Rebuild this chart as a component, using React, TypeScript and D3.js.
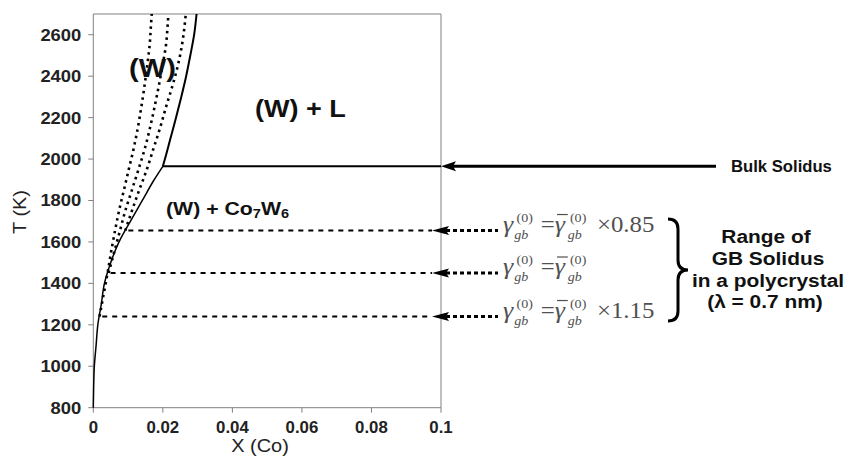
import React from 'react';
import * as d3 from 'd3';

// bulk solidus / solvus of (W)
const solidLowT = [800, 900, 1000, 1100, 1200, 1300, 1400, 1500, 1600, 1700, 1800, 1900, 1965];
const solidLowX = [0, 0.0001, 0.0003, 0.0008, 0.0013, 0.0023, 0.0032, 0.005, 0.0074, 0.0107, 0.0141, 0.0175, 0.02];
const solidHighT = [1965, 2000, 2100, 2200, 2300, 2400, 2500, 2600, 2700];
const solidHighX = [0.02, 0.0206, 0.0222, 0.0238, 0.0253, 0.0267, 0.0279, 0.029, 0.0297];

// GB solidus curves (dotted)
const gb085T = [1655, 1750, 1850, 1950, 2050, 2150, 2250, 2350, 2450, 2550, 2650, 2700];
const gb085X = [0.0092, 0.0111, 0.0132, 0.0154, 0.0173, 0.0192, 0.0209, 0.0227, 0.0243, 0.0255, 0.0263, 0.0266];
const gb100T = [1450, 1550, 1650, 1750, 1850, 1950, 2050, 2150, 2250, 2350, 2450, 2550, 2650, 2700];
const gb100X = [0.0044, 0.006, 0.0076, 0.0092, 0.0111, 0.013, 0.0148, 0.0163, 0.0176, 0.0188, 0.0199, 0.0209, 0.0214, 0.0216];
const gb115T = [1240, 1350, 1450, 1550, 1650, 1750, 1850, 1950, 2050, 2150, 2250, 2350, 2450, 2550, 2650, 2700];
const gb115X = [0.0018, 0.003, 0.0041, 0.0051, 0.0062, 0.0074, 0.0088, 0.0102, 0.0116, 0.0128, 0.0138, 0.0147, 0.0155, 0.0162, 0.0166, 0.0168];

const bulkSolidusT = 1965;
const gbLevels = [1655, 1450, 1240];
const gbFactors = ['×0.85', '', '×1.15'];

const xTicks = [0, 0.02, 0.04, 0.06, 0.08, 0.1];
const xTickLabels = ['0', '0.02', '0.04', '0.06', '0.08', '0.1'];
const yTicks = [800, 1000, 1200, 1400, 1600, 1800, 2000, 2200, 2400, 2600];

const W = 848, H = 457;
const sans = 'Liberation Sans, Arial, sans-serif';
const serif = 'Liberation Serif, Times New Roman, serif';

function SText(props: any) {
  const { x, y, sx = 1.1, size, weight = 'bold', anchor = 'start', fill = '#111', children, rotate } = props;
  const tr = rotate ? `translate(${x},${y}) rotate(${rotate}) scale(${sx},1)` : `translate(${x},${y}) scale(${sx},1)`;
  return (
    <g transform={tr}>
      <text fontFamily={sans} fontSize={size} fontWeight={weight} textAnchor={anchor} fill={fill}>{children}</text>
    </g>
  );
}

function Eq({ y, factor }: { y: number; factor: string }) {
  const c = '#505050';
  return (
    <g transform={`translate(503,${y}) scale(1.08,1)`} fill={c} fontFamily={serif}>
      <text x={0} y={0} fontSize={24} fontStyle="italic">γ</text>
      <text x={12.5} y={-10} fontSize={13}>(0)</text>
      <text x={10.5} y={7} fontSize={13} fontStyle="italic">gb</text>
      <text x={35} y={0} fontSize={23}>=</text>
      <text x={48} y={0} fontSize={24} fontStyle="italic">γ</text>
      <line x1={50} x2={60} y1={-17} y2={-17} stroke={c} strokeWidth={1.2} />
      <text x={62} y={-10} fontSize={13}>(0)</text>
      <text x={60} y={7} fontSize={13} fontStyle="italic">gb</text>
      {factor && <text x={87} y={0} fontSize={23}>{factor}</text>}
    </g>
  );
}

export default function App() {
  const x = d3.scaleLinear().domain([0, 0.1]).range([93.3, 441]);
  const y = d3.scaleLinear().domain([800, 2700]).range([407.7, 14]);

  const line = d3.line<[number, number]>()
    .x(d => x(d[0]))
    .y(d => y(d[1]))
    .curve(d3.curveMonotoneY);

  const pts = (xs: number[], ts: number[]) => xs.map((v, i) => [v, ts[i]] as [number, number]);
  // piecewise linear lookup of the bulk curve at a temperature
  const solidAt = d3.scaleLinear().domain(solidLowT).range(solidLowX);

  const x0 = x.range()[0], x1 = x.range()[1];
  const yTop = y.range()[1], yBot = y.range()[0];
  const axisCol = '#808080';
  const ySol = y(bulkSolidusT);

  return (
    <svg width={W} height={H} style={{ position: 'absolute', left: 0, top: 0, background: '#fff' }}>
      {/* frame */}
      <line x1={x0} x2={x1} y1={yTop} y2={yTop} stroke={axisCol} />
      <line x1={x1} x2={x1} y1={yTop} y2={yBot} stroke={axisCol} />
      <line x1={x0} x2={x1} y1={yBot} y2={yBot} stroke={axisCol} />
      <line x1={x0} x2={x0} y1={yTop} y2={yBot} stroke={axisCol} />

      {yTicks.map(t => (
        <g key={t}>
          <line x1={x0 - 5} x2={x0} y1={y(t)} y2={y(t)} stroke={axisCol} />
          <SText x={x0 - 12} y={y(t) + 6} size={16} anchor="end" fill="#222" sx={1.15}>{t}</SText>
        </g>
      ))}
      {xTicks.map((t, i) => (
        <g key={t}>
          <line x1={x(t)} x2={x(t)} y1={yBot} y2={yBot + 5} stroke={axisCol} />
          <SText x={x(t)} y={433} size={16} anchor="middle" fill="#222" sx={1.05}>{xTickLabels[i]}</SText>
        </g>
      ))}

      <SText x={260} y={452} size={18.5} weight="normal" anchor="middle" fill="#222" sx={1.08}>X (Co)</SText>
      <SText x={26} y={212} size={18.5} weight="normal" anchor="middle" fill="#222" sx={1.08} rotate={-90}>T (K)</SText>

      {/* bulk curves */}
      <path d={line(pts(solidLowX, solidLowT)) || ''} fill="none" stroke="#000" strokeWidth={1.5} />
      <path d={line(pts(solidHighX, solidHighT)) || ''} fill="none" stroke="#000" strokeWidth={2} />

      {/* GB solidus curves */}
      {[[gb085X, gb085T], [gb100X, gb100T], [gb115X, gb115T]].map((c, i) => (
        <path key={i} d={line(pts(c[0], c[1])) || ''} fill="none" stroke="#000" strokeWidth={2.6} strokeDasharray="2.5,4" />
      ))}

      {/* bulk solidus line + arrow */}
      <line x1={x(0.02)} x2={x1} y1={ySol} y2={ySol} stroke="#000" strokeWidth={2} />
      <line x1={x1 + 12} x2={716} y1={ySol} y2={ySol} stroke="#000" strokeWidth={3} />
      <path d={`M${x1},${ySol} L${x1 + 15},${ySol - 5} L${x1 + 12},${ySol} L${x1 + 15},${ySol + 5} Z`} fill="#000" />
      <SText x={731} y={ySol + 6} size={17} sx={0.98}>Bulk Solidus</SText>

      {/* GB solidus levels */}
      {gbLevels.map((t, i) => {
        const yy = y(t);
        return (
          <g key={t}>
            <line x1={x(solidAt(t)) + 3} x2={432} y1={yy} y2={yy} stroke="#000" strokeWidth={2} strokeDasharray="5,5" />
            <path d={`M432,${yy} L449,${yy - 4.5} L446,${yy} L449,${yy + 4.5} Z`} fill="#000" />
            <line x1={446} x2={498} y1={yy} y2={yy} stroke="#000" strokeWidth={3} strokeDasharray="4,3" />
            <Eq y={yy + 1} factor={gbFactors[i]} />
          </g>
        );
      })}

      {/* brace */}
      <path d="M668,219 Q678,219 678,229 L678,260 Q678,270 688,270 Q678,270 678,280 L678,311 Q678,321 668,321"
        fill="none" stroke="#000" strokeWidth={3} />

      <SText x={766} y={243} size={19} anchor="middle" sx={1.1}>Range of</SText>
      <SText x={768} y={265} size={19} anchor="middle" sx={1.1}>GB Solidus</SText>
      <SText x={768} y={287} size={19} anchor="middle" sx={1.1}>in a polycrystal</SText>
      <SText x={765} y={308} size={19} anchor="middle" sx={1.1}>(λ = 0.7 nm)</SText>

      {/* phase labels */}
      <SText x={129} y={77} size={26} sx={1.12}>(W)</SText>
      <SText x={255} y={117} size={23.5} sx={1.15}>(W) + L</SText>
      <g transform="translate(166,215) scale(1.12,1)">
        <text fontFamily={sans} fontSize={19} fontWeight="bold" fill="#111">
          (W) + Co<tspan fontSize={13} dy={3}>7</tspan><tspan dy={-3}>W</tspan><tspan fontSize={13} dy={3}>6</tspan>
        </text>
      </g>
    </svg>
  );
}
